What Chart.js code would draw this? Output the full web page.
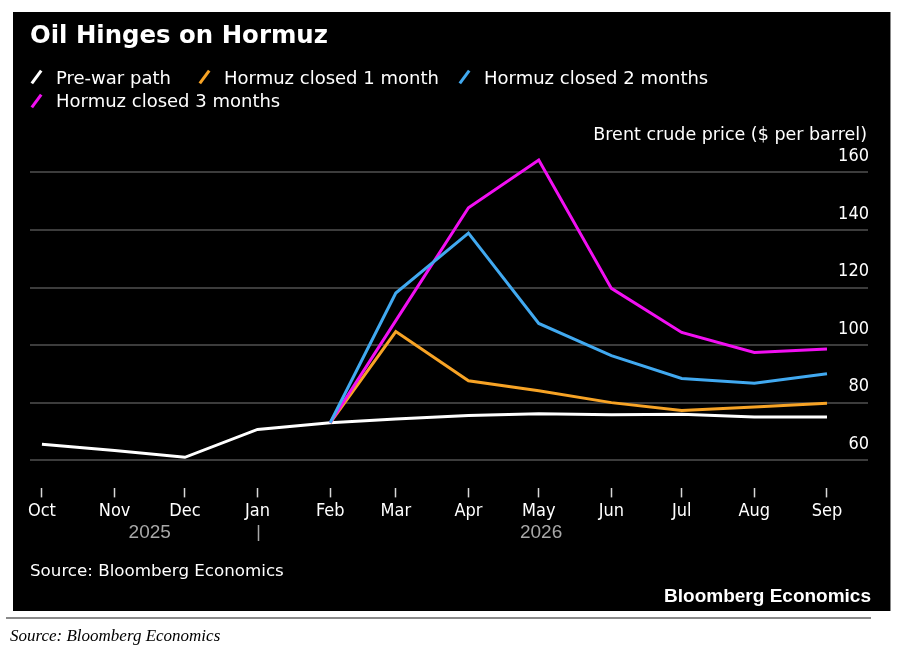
<!DOCTYPE html>
<html>
<head>
<meta charset="utf-8">
<script src="https://cdn.jsdelivr.net/npm/chart.js@4.4.1/dist/chart.umd.min.js"></script>
<style>
  body { margin: 0; width: 903px; height: 660px; background: #fff; position: relative; overflow: hidden; }
  .panel { position: absolute; left: 13px; top: 12px; width: 877px; height: 599px; background: #000; border-right: 1px solid #888; }
  .txt { position: absolute; white-space: nowrap; color: #fff; }
  .title { left: 30px; top: 22.5px; font: bold 24.4px/24.4px "DejaVu Sans"; }
  .leg { font: 18px/18px "DejaVu Sans"; }
  .icon { position: absolute; width: 3px; height: 16px; transform: rotate(36deg); }
  .unit { right: 36px; top: 126.2px; font: 17.5px/17.5px "DejaVu Sans"; }
  .src { left: 30px; top: 561.9px; font: 16.7px/16.7px "DejaVu Sans"; }
  .brand { right: 32px; top: 585.6px; font: bold 19px/19px "Liberation Sans"; }
  .rule { position: absolute; left: 6px; top: 617px; width: 865px; height: 2px; background: #8a8a8a; }
  .foot { position: absolute; left: 10px; top: 626.8px; font: italic 17px/17px "Liberation Serif"; color: #000; white-space: nowrap; }
  #wrap { position: absolute; left: 0; top: 0; width: 903px; height: 660px; }
</style>
</head>
<body>
<div class="panel"></div>
<div id="wrap"><canvas id="oilChart"></canvas></div>

<div class="txt title">Oil Hinges on Hormuz</div>

<span class="icon" style="left:34.5px; top:69px; background:#ffffff"></span>
<div class="txt leg" style="left:56px; top:68.8px">Pre-war path</div>
<span class="icon" style="left:202.5px; top:69px; background:#f7a325"></span>
<div class="txt leg" style="left:224px; top:68.8px">Hormuz closed 1 month</div>
<span class="icon" style="left:462.5px; top:69px; background:#41a9f0"></span>
<div class="txt leg" style="left:484px; top:68.8px">Hormuz closed 2 months</div>
<span class="icon" style="left:34.5px; top:93px; background:#f20ff2"></span>
<div class="txt leg" style="left:56px; top:92.3px">Hormuz closed 3 months</div>

<div class="txt unit">Brent crude price ($ per barrel)</div>
<div class="txt src">Source: Bloomberg Economics</div>
<div class="txt brand">Bloomberg Economics</div>
<div class="rule"></div>
<div class="foot">Source: Bloomberg Economics</div>

<script>
// months on the x axis (first of each month)
const months = ['Oct', 'Nov', 'Dec', 'Jan', 'Feb', 'Mar', 'Apr', 'May', 'Jun', 'Jul', 'Aug', 'Sep'];
const monthDates = ['2025-10-01', '2025-11-01', '2025-12-01', '2026-01-01', '2026-02-01', '2026-03-01',
                    '2026-04-01', '2026-05-01', '2026-06-01', '2026-07-01', '2026-08-01', '2026-09-01'];

// Brent crude price, $ per barrel
const preWar  = [65.5, 63.4, 61.0, 70.7, 73.0, 74.3, 75.5, 76.1, 75.8, 76.0, 75.0, 75.0];
const closed1 = [null, null, null, null, 73.0, 104.7, 87.6, 84.1, 80.0, 77.3, 78.5, 79.8];
const closed2 = [null, null, null, null, 73.0, 118.1, 138.9, 107.5, 96.3, 88.4, 86.7, 90.0];
const closed3 = [null, null, null, null, 73.0, 108.5, 147.7, 164.3, 119.7, 104.4, 97.4, 98.6];

const yTicks = [60, 80, 100, 120, 140, 160];
const yearLabels = ['2025', '2026'];
const yearDates = ['2025-11-16', '2026-05-02'];
const yearBreak = '2026-01-01';

const day0 = Date.parse(monthDates[0]);
const toDay = d => (Date.parse(d) - day0) / 86400000;
const xs = monthDates.map(toDay);
const pts = vals => vals.map((v, i) => ({ x: xs[i], y: v }));

const tickFont = { family: '"DejaVu Sans Condensed", "Liberation Sans", sans-serif', size: 18 };

const yearPlugin = {
  id: 'yearLabels',
  afterDraw(chart) {
    const ctx = chart.ctx;
    const xScale = chart.scales.x;
    ctx.save();
    ctx.font = '19px "Liberation Sans"';
    ctx.fillStyle = '#a8a8a8';
    ctx.textAlign = 'center';
    ctx.textBaseline = 'alphabetic';
    yearLabels.forEach((lab, i) => {
      ctx.fillText(lab, xScale.getPixelForValue(toDay(yearDates[i])), 538);
    });
    const bx = Math.round(xScale.getPixelForValue(toDay(yearBreak))) + 0.5;
    ctx.strokeStyle = '#a8a8a8';
    ctx.lineWidth = 1.5;
    ctx.beginPath();
    ctx.moveTo(bx, 525);
    ctx.lineTo(bx, 541);
    ctx.stroke();
    ctx.restore();
  }
};

const line = (data, color, order) => ({
  data: pts(data),
  borderColor: color,
  backgroundColor: color,
  borderWidth: 3,
  pointRadius: 0,
  tension: 0,
  order: order
});

new Chart(document.getElementById('oilChart'), {
  type: 'line',
  data: {
    datasets: [
      line(preWar, '#ffffff', 4),
      line(closed1, '#f7a325', 3),
      line(closed3, '#f20ff2', 2),
      line(closed2, '#41a9f0', 1)
    ]
  },
  options: {
    responsive: true,
    maintainAspectRatio: false,
    animation: false,
    layout: { padding: { left: 30, right: 33, top: 158, bottom: 135 } },
    plugins: { legend: { display: false }, tooltip: { enabled: false } },
    scales: {
      x: {
        type: 'linear',
        min: -5.1,
        max: 352.5,
        afterBuildTicks: scale => { scale.ticks = xs.map(v => ({ value: v })); },
        ticks: {
          autoSkip: false,
          maxRotation: 0,
          color: '#ffffff',
          font: tickFont,
          padding: 3,
          callback: (v, i) => months[i]
        },
        grid: { drawOnChartArea: false, drawTicks: true, tickLength: 9, tickColor: '#d8d8d8', tickWidth: 1.5 },
        border: { display: false }
      },
      y: {
        type: 'linear',
        position: 'right',
        min: 50.2,
        max: 165,
        afterBuildTicks: scale => { scale.ticks = yTicks.map(v => ({ value: v })); },
        ticks: {
          mirror: true,
          padding: 1,
          labelOffset: -16,
          color: '#ffffff',
          font: tickFont
        },
        grid: { color: '#3c3c3c', lineWidth: 2, drawTicks: false },
        border: { display: false }
      }
    }
  },
  plugins: [yearPlugin]
});
</script>
</body>
</html>
